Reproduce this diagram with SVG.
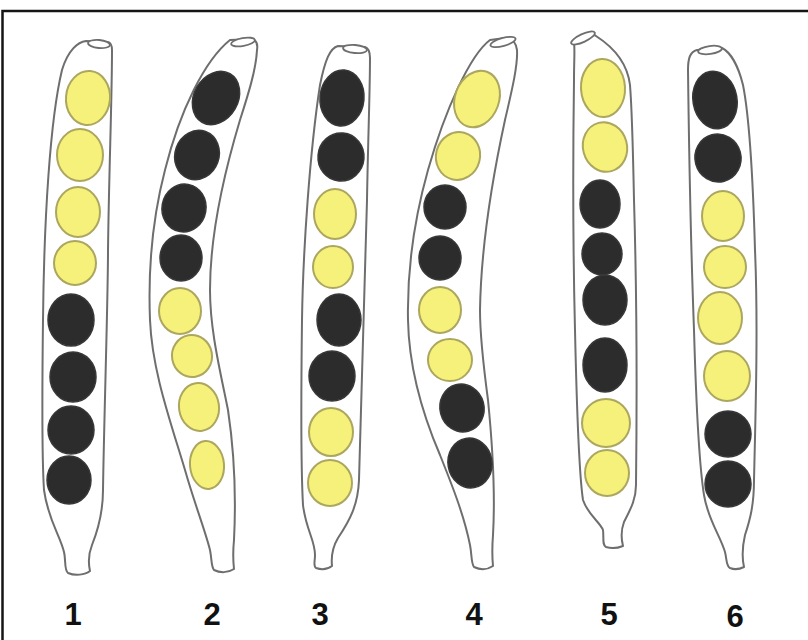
<svg xmlns="http://www.w3.org/2000/svg" width="808" height="640" viewBox="0 0 808 640">
  <style>
    .wall { fill: #ffffff; stroke: #6e6e6e; stroke-width: 2; stroke-linejoin: round; }
    .pore { fill: #ffffff; stroke: #6e6e6e; stroke-width: 1.8; }
    .y { fill: #f5f17a; stroke: #aca65e; stroke-width: 2; }
    .k { fill: #2c2c2c; stroke: #383838; stroke-width: 1.5; }
    .lbl { font-family: "Liberation Sans", Arial, sans-serif; font-weight: bold; font-size: 31px; fill: #111111; text-anchor: middle; }
    .frame { stroke: #151515; stroke-width: 2.5; fill: none; }
  </style>

  <rect x="0" y="0" width="808" height="640" fill="#ffffff"/>
  <!-- outer frame: top and left edges only -->
  <path class="frame" d="M 2.5,640 L 2.5,11 L 808,11"/>

  <!-- ascus 1 -->
  <g id="ascus-1">
    <path class="wall" d="M 86,41 C 78,42 68,50 62,70 C 50,120 44,220 43,320 C 42,400 42,460 44,490 C 48,520 60,535 64,552 C 66,560 64,570 68,573 C 75,576 85,575 90,571 C 88,562 88,555 92,545 C 98,530 103,510 103,490 C 104,420 108,300 108,250 C 109,170 112,100 112,50 C 112,45 110,42 108,42 Z"/>
    <ellipse class="pore" cx="99" cy="44" rx="11" ry="4" transform="rotate(5 99 44)"/>
    <ellipse class="y" cx="88" cy="98" rx="22" ry="27" transform="rotate(5 88 98)"/>
    <ellipse class="y" cx="80" cy="155" rx="23" ry="26"/>
    <ellipse class="y" cx="78" cy="212" rx="22" ry="25"/>
    <ellipse class="y" cx="75" cy="263" rx="21" ry="22"/>
    <ellipse class="k" cx="71" cy="320" rx="23" ry="26"/>
    <ellipse class="k" cx="73" cy="377" rx="23" ry="25"/>
    <ellipse class="k" cx="71" cy="430" rx="23" ry="24"/>
    <ellipse class="k" cx="69" cy="480" rx="22" ry="24"/>
  </g>

  <!-- ascus 2 -->
  <g id="ascus-2">
    <path class="wall" d="M 230,40 C 205,60 180,110 165,170 C 152,220 148,270 150,320 C 152,370 170,420 185,470 C 195,505 205,530 210,550 C 212,560 211,566 214,570 C 220,573 228,573 234,569 C 233,560 233,550 234,540 C 236,500 234,450 228,410 C 220,370 210,330 210,290 C 210,230 225,170 240,120 C 248,95 256,70 257,50 C 258,44 256,40 252,39 Z"/>
    <ellipse class="pore" cx="243" cy="42" rx="12" ry="4" transform="rotate(-10 243 42)"/>
    <ellipse class="k" cx="216" cy="98" rx="22" ry="28" transform="rotate(30 216 98)"/>
    <ellipse class="k" cx="197" cy="155" rx="22" ry="25" transform="rotate(20 197 155)"/>
    <ellipse class="k" cx="184" cy="208" rx="22" ry="24" transform="rotate(10 184 208)"/>
    <ellipse class="k" cx="181" cy="258" rx="21" ry="23"/>
    <ellipse class="y" cx="180" cy="311" rx="21" ry="23"/>
    <ellipse class="y" cx="192" cy="356" rx="20" ry="21" transform="rotate(-10 192 356)"/>
    <ellipse class="y" cx="199" cy="407" rx="20" ry="24" transform="rotate(-8 199 407)"/>
    <ellipse class="y" cx="207" cy="465" rx="17" ry="24" transform="rotate(-5 207 465)"/>
  </g>

  <!-- ascus 3 -->
  <g id="ascus-3">
    <path class="wall" d="M 338,46 C 330,48 325,60 320,85 C 310,150 303,250 302,320 C 301,400 301,470 303,505 C 306,530 315,540 315,555 C 315,562 313,566 316,568 C 322,570 328,569 332,566 C 331,556 332,548 338,538 C 350,520 358,505 359,480 C 361,400 365,300 367,200 C 368,140 370,90 370,58 C 370,52 368,48 365,47 Z"/>
    <ellipse class="pore" cx="355" cy="49" rx="12" ry="4" transform="rotate(5 355 49)"/>
    <ellipse class="k" cx="342" cy="98" rx="22" ry="28" transform="rotate(5 342 98)"/>
    <ellipse class="k" cx="341" cy="157" rx="23" ry="24" transform="rotate(5 341 157)"/>
    <ellipse class="y" cx="335" cy="214" rx="21" ry="25"/>
    <ellipse class="y" cx="333" cy="267" rx="20" ry="21"/>
    <ellipse class="k" cx="339" cy="320" rx="22" ry="26"/>
    <ellipse class="k" cx="332" cy="376" rx="23" ry="25"/>
    <ellipse class="y" cx="331" cy="432" rx="22" ry="24"/>
    <ellipse class="y" cx="330" cy="483" rx="22" ry="23"/>
  </g>

  <!-- ascus 4 -->
  <g id="ascus-4">
    <path class="wall" d="M 490,40 C 470,55 445,110 428,170 C 414,220 407,270 408,320 C 409,370 425,420 440,455 C 452,485 464,515 470,545 C 472,555 471,563 474,567 C 480,570 487,570 493,566 C 492,556 492,548 493,535 C 495,500 493,450 488,400 C 484,370 480,340 480,310 C 481,250 492,180 505,120 C 512,90 518,65 517,50 C 516,43 512,38 505,38 Z"/>
    <ellipse class="pore" cx="503" cy="42" rx="13" ry="4" transform="rotate(-15 503 42)"/>
    <ellipse class="y" cx="477" cy="99" rx="22" ry="29" transform="rotate(20 477 99)"/>
    <ellipse class="y" cx="458" cy="156" rx="22" ry="24" transform="rotate(15 458 156)"/>
    <ellipse class="k" cx="445" cy="207" rx="21" ry="22"/>
    <ellipse class="k" cx="440" cy="258" rx="21" ry="22"/>
    <ellipse class="y" cx="440" cy="310" rx="21" ry="23"/>
    <ellipse class="y" cx="450" cy="360" rx="22" ry="21"/>
    <ellipse class="k" cx="462" cy="408" rx="22" ry="24" transform="rotate(-15 462 408)"/>
    <ellipse class="k" cx="470" cy="463" rx="22" ry="25" transform="rotate(-10 470 463)"/>
  </g>

  <!-- ascus 5 -->
  <g id="ascus-5">
    <path class="wall" d="M 574,42 C 575,50 574,60 574,80 C 573,150 573,250 575,330 C 577,420 580,480 583,500 C 588,515 600,522 603,530 C 604,538 602,545 606,547 C 612,549 618,548 623,546 C 621,538 621,530 624,522 C 630,510 636,500 636,485 C 637,400 637,300 634,200 C 633,150 632,110 630,85 C 627,60 610,45 596,36 C 594,34 590,33 587,34 Z"/>
    <ellipse class="pore" cx="583" cy="38" rx="13" ry="4" transform="rotate(-25 583 38)"/>
    <ellipse class="y" cx="603" cy="88" rx="22" ry="29" transform="rotate(-3 603 88)"/>
    <ellipse class="y" cx="605" cy="147" rx="22" ry="25" transform="rotate(-15 605 147)"/>
    <ellipse class="k" cx="600" cy="204" rx="20" ry="24"/>
    <ellipse class="k" cx="602" cy="254" rx="20" ry="21"/>
    <ellipse class="k" cx="605" cy="300" rx="22" ry="25"/>
    <ellipse class="k" cx="605" cy="365" rx="22" ry="27"/>
    <ellipse class="y" cx="606" cy="423" rx="24" ry="24"/>
    <ellipse class="y" cx="607" cy="473" rx="22" ry="23"/>
  </g>

  <!-- ascus 6 -->
  <g id="ascus-6">
    <path class="wall" d="M 697,50 C 690,52 688,58 688,70 C 689,150 691,250 694,330 C 696,400 700,470 704,495 C 708,520 720,535 725,552 C 727,560 726,566 730,568 C 735,570 740,569 744,567 C 742,558 742,548 745,535 C 750,520 754,505 754,480 C 756,400 758,320 755,250 C 753,180 750,120 743,85 C 738,65 730,52 722,48 Z"/>
    <ellipse class="pore" cx="710" cy="50" rx="12" ry="4" transform="rotate(-8 710 50)"/>
    <ellipse class="k" cx="715" cy="100" rx="22" ry="29" transform="rotate(-10 715 100)"/>
    <ellipse class="k" cx="718" cy="158" rx="23" ry="24" transform="rotate(-15 718 158)"/>
    <ellipse class="y" cx="723" cy="216" rx="21" ry="25"/>
    <ellipse class="y" cx="725" cy="267" rx="21" ry="21"/>
    <ellipse class="y" cx="720" cy="318" rx="22" ry="26"/>
    <ellipse class="y" cx="727" cy="376" rx="23" ry="25"/>
    <ellipse class="k" cx="728" cy="434" rx="23" ry="23"/>
    <ellipse class="k" cx="728" cy="484" rx="23" ry="23"/>
  </g>

  <!-- numbering -->
  <g id="labels">
    <text class="lbl" x="73" y="625">1</text>
    <text class="lbl" x="212" y="625">2</text>
    <text class="lbl" x="320" y="625">3</text>
    <text class="lbl" x="474" y="625">4</text>
    <text class="lbl" x="609" y="625">5</text>
    <text class="lbl" x="735" y="627">6</text>
  </g>
</svg>
